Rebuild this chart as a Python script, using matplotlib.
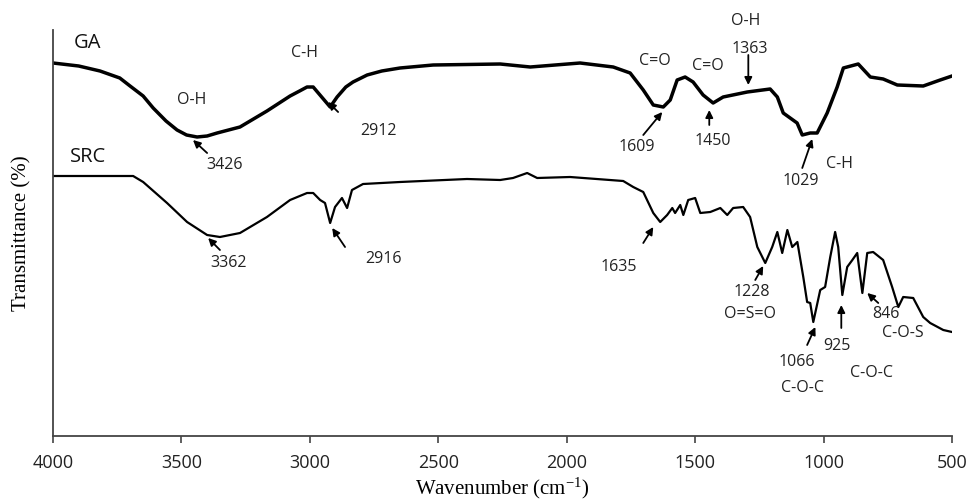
import matplotlib
matplotlib.use("Agg")
import matplotlib.pyplot as plt

plt.rcParams["mathtext.fontset"] = "custom"
plt.rcParams["mathtext.rm"] = "Liberation Serif"
plt.rcParams["mathtext.it"] = "Liberation Serif:italic"
plt.rcParams["mathtext.bf"] = "Liberation Serif:bold"

# ---- data (wavenumber cm-1, transmittance in arbitrary units) ----
ga_wn = [4000, 3900, 3817, 3740, 3700, 3649, 3610, 3560, 3517, 3480, 3439, 3400, 3361,
         3272, 3167, 3077, 3040, 3011, 2987, 2921, 2894, 2860, 2832, 2777, 2720, 2649,
         2520, 2259, 2142, 1948, 1819, 1753, 1702, 1663, 1624, 1597, 1570, 1539, 1508,
         1469, 1430, 1391, 1297, 1208, 1180, 1157, 1103, 1083, 1052, 1025, 986, 947, 923,
         865, 818, 768, 713, 612, 546, 500]
ga_t = [373, 370, 365, 358, 350, 340, 328, 315, 306, 301, 299, 300, 303,
        309, 325, 340, 345, 349, 349, 329, 339, 349, 354, 361, 365, 368,
        371, 372, 369, 373, 369, 363, 346, 331, 329, 336, 356, 359, 354,
        341, 333, 339, 344, 347, 339, 323, 313, 301, 303, 303, 323, 349, 368,
        372, 359, 357, 351, 350, 356, 360]

src_wn = [4000, 3688, 3649, 3556, 3478, 3400, 3350, 3272, 3167, 3077, 3011, 2987, 2960,
          2941, 2921, 2902, 2875, 2855, 2836, 2793, 2649, 2388, 2259, 2209, 2154, 2115,
          1987, 1780, 1741, 1702, 1663, 1636, 1609, 1589, 1578, 1558, 1546, 1527, 1500,
          1480, 1441, 1402, 1375, 1352, 1313, 1286, 1258, 1227, 1200, 1180, 1161, 1141,
          1122, 1102, 1079, 1064, 1052, 1040, 1013, 994, 974, 955, 943, 927, 908, 888,
          869, 849, 830, 807, 768, 733, 709, 690, 651, 612, 585, 534, 500]
src_t = [260, 260, 254, 233, 214, 201, 199, 203, 219, 236, 243, 243, 236,
         233, 213, 229, 238, 228, 246, 252, 254, 257, 256, 258, 263, 258,
         259, 255, 249, 244, 223, 214, 221, 228, 223, 231, 221, 236, 238,
         223, 224, 228, 221, 228, 229, 219, 189, 173, 189, 204, 183, 206,
         189, 194, 159, 134, 133, 114, 146, 149, 179, 204, 189, 141, 169, 176,
         183, 143, 183, 184, 176, 149, 129, 139, 138, 119, 113, 106, 104]

x_ticks = [4000, 3500, 3000, 2500, 2000, 1500, 1000, 500]

# labels: (text, wn, y)
labels = [
    ("C-H", 3019, 383), ("O-H", 3459, 336), ("3426", 3334, 271), ("2912", 2734, 305),
    ("C=O", 1656, 375), ("C=O", 1449, 370), ("O-H", 1305, 415), ("1363", 1289, 387),
    ("1609", 1726, 289), ("1450", 1430, 295), ("1029", 1087, 255), ("C-H", 939, 272),
    ("3362", 3318, 173), ("2916", 2715, 177), ("1635", 1796, 169), ("1228", 1278, 144),
    ("O=S=O", 1286, 122), ("1066", 1103, 74), ("C-O-C", 1083, 48), ("925", 947, 90),
    ("C-O-C", 814, 63), ("846", 756, 122), ("C-O-S", 690, 103),
]
# arrows: (tail wn, tail y, head wn, head y)
arrows = [
    (3400, 283, 3455, 296), (2890, 324, 2929, 334), (1293, 381, 1293, 351),
    (1702, 301, 1628, 324), (1445, 311, 1445, 326), (1083, 268, 1044, 297),
    (3350, 186, 3396, 198), (2863, 189, 2913, 208), (1702, 193, 1663, 209),
    (1266, 156, 1235, 170), (1064, 91, 1032, 109), (931, 108, 931, 131),
    (787, 133, 830, 143),
]
series_names = [("GA", 3864, 393), ("SRC", 3864, 279)]

fig = plt.figure(figsize=(9.7, 5.01), dpi=100)
ax = fig.add_axes([53 / 970, 65 / 501, 899 / 970, 406 / 501])

ax.plot(ga_wn, ga_t, color="black", lw=2.5, solid_joinstyle="round")
ax.plot(src_wn, src_t, color="black", lw=1.6, solid_joinstyle="round")

ax.set_xlim(4000, 500)
ax.set_ylim(0, 406)
ax.set_xticks(x_ticks)
ax.set_xticklabels([str(t) for t in x_ticks], fontfamily="Open Sans", fontsize=13,
                   color="#222222")
ax.set_yticks([])
ax.tick_params(axis="x", direction="out", length=5, width=1.2, color="#444444", pad=8)
for s in ["top", "right"]:
    ax.spines[s].set_visible(False)
for s in ["left", "bottom"]:
    ax.spines[s].set_color("#444444")
    ax.spines[s].set_linewidth(1.3)

for txt, x, y in labels:
    ax.text(x, y, txt, ha="center", va="center", fontfamily="Open Sans",
            fontsize=11.5, color="#222222")
for txt, x, y in series_names:
    ax.text(x, y, txt, ha="center", va="center", fontfamily="Open Sans",
            fontsize=14.5, color="#111111")
for tx, ty, hx, hy in arrows:
    ax.annotate("", xy=(hx, hy), xytext=(tx, ty),
                arrowprops=dict(arrowstyle="-|>", color="black", lw=1.3,
                                mutation_scale=11, shrinkA=0, shrinkB=0))

ax.set_xlabel("Wavenumber (cm$^{\\mathrm{-1}}$)", fontfamily="Liberation Serif", fontsize=15)
ax.set_ylabel("Transmittance (%)", fontfamily="Liberation Serif", fontsize=15)
ax.xaxis.set_label_coords(0.5, (436 - 488) / 406)
ax.xaxis.label.set_va("center")
ax.yaxis.set_label_coords((22 - 53) / 899, 0.5)
ax.yaxis.label.set_va("center")

fig.savefig("out.png", dpi=100)
